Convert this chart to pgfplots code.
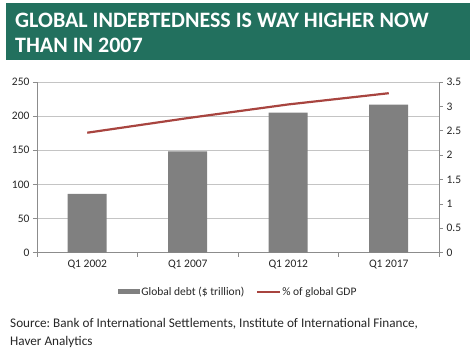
\documentclass[border=0pt]{standalone}
\usepackage{fontspec}
\setmainfont{Carlito}
\usepackage{pgfplots}
\pgfplotsset{compat=1.18}
\definecolor{banner}{HTML}{22705E}
\definecolor{bargray}{HTML}{808080}
\definecolor{linered}{HTML}{A8443F}
\definecolor{axgray}{HTML}{8C8C8C}
\definecolor{gridgray}{HTML}{C4C4C4}
\definecolor{txt}{HTML}{262626}
\frenchspacing
\begin{document}
\begin{tikzpicture}[x=1pt,y=1pt]
\path[use as bounding box] (0,0) rectangle (475,352);
\fill[banner] (6,292) rectangle (470,349);
\node[anchor=base west, text=white, font=\fontsize{22}{26}\selectfont\bfseries, inner sep=0] at (15,324) {GLOBAL INDEBTEDNESS IS WAY HIGHER NOW};
\node[anchor=base west, text=white, font=\fontsize{22}{26}\selectfont\bfseries, inner sep=0] at (15,299) {THAN IN 2007};
\begin{axis}[
  at={(37pt,99.3pt)}, anchor=south west,
  scale only axis, width=402pt, height=170.7pt,
  xmin=-0.5, xmax=3.5, ymin=0, ymax=250,
  xtick={0,1,2,3}, xticklabels={Q1 2002,Q1 2007,Q1 2012,Q1 2017},
  major x tick style={draw=none},
  minor xtick={-0.5,0.5,1.5,2.5,3.5},
  ytick={0,50,...,250},
  ymajorgrids, grid style={gridgray, line width=0.8pt},
  axis x line*=bottom, axis y line*=left,
  axis line style={axgray, line width=0.8pt, -},
  tick style={axgray, line width=0.8pt},
  tick align=outside, major tick length=4pt, minor tick length=4pt,
  tick label style={font=\fontsize{11.5}{13}\selectfont, text=txt},
  /pgf/number format/assume math mode=true,
  ybar, bar width=39pt,
  legend style={draw=none, at={(0.5,-0.23)}, anchor=center, legend columns=2,
    font=\fontsize{11.5}{13}\selectfont, text=txt,
    nodes={inner sep=1pt},
    /tikz/every even column/.append style={column sep=11pt}},
]
\addplot[fill=bargray, draw=none,
  legend image code/.code={\fill[bargray] (0pt,-2.5pt) rectangle (22pt,2.5pt);}]
  coordinates {(0,86) (1,148.5) (2,205) (3,217)};
\addlegendentry{Global debt (\$ trillion)}
\addlegendimage{legend image code/.code={\draw[linered, line width=2pt] (0pt,0pt) -- (23pt,0pt);}}
\addlegendentry{\% of global GDP}
\end{axis}
\begin{axis}[
  at={(37pt,99.3pt)}, anchor=south west,
  scale only axis, width=402pt, height=170.7pt,
  xmin=-0.5, xmax=3.5, ymin=0, ymax=3.5,
  ytick={0,0.5,...,3.5},
  axis x line=none, axis y line*=right,
  axis line style={axgray, line width=0.8pt, -},
  tick style={axgray, line width=0.8pt},
  tick align=outside, major tick length=4pt,
  tick label style={font=\fontsize{11.5}{13}\selectfont, text=txt},
  /pgf/number format/assume math mode=true,
]
\addplot[linered, line width=2.2pt, mark=none] coordinates {(0,2.46) (1,2.76) (2,3.04) (3,3.27)};
\end{axis}
\node[anchor=base west, text=txt, font=\fontsize{13.2}{15}\selectfont, inner sep=0] at (10,24) {Source: Bank of International Settlements, Institute of International Finance,};
\node[anchor=base west, text=txt, font=\fontsize{13.2}{15}\selectfont, inner sep=0] at (10,6) {Haver Analytics};
\end{tikzpicture}
\end{document}
